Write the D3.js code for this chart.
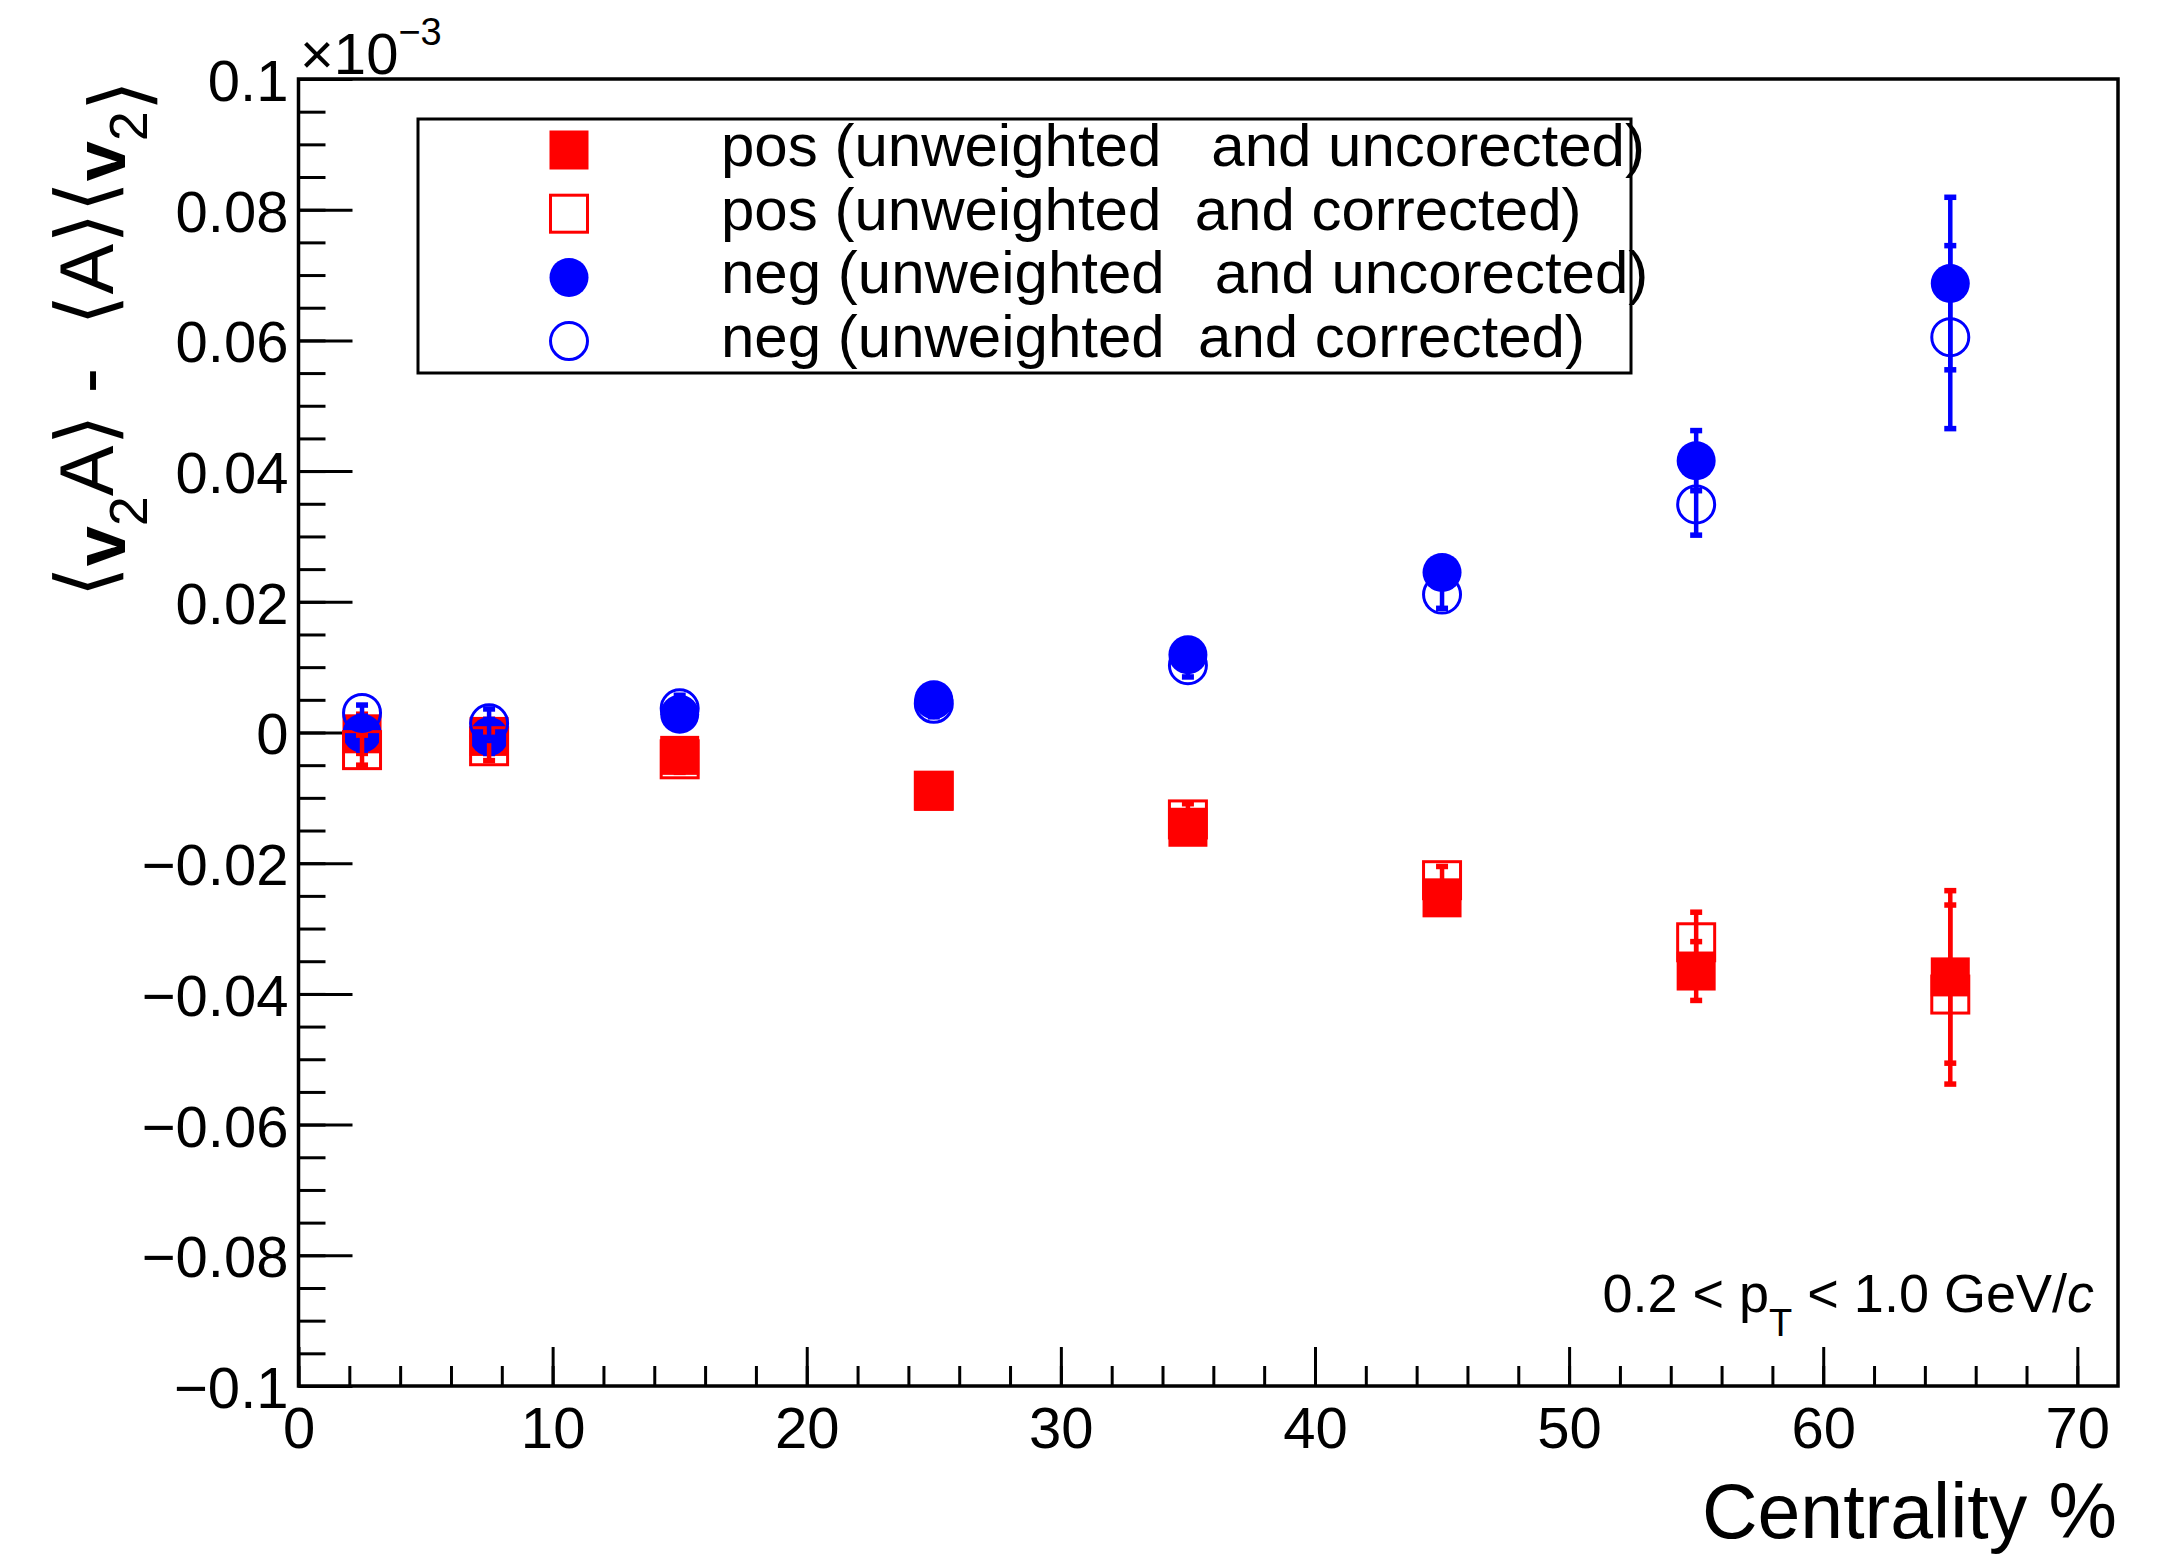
<!DOCTYPE html>
<html>
<head>
<meta charset="utf-8">
<script src="https://cdn.jsdelivr.net/npm/d3@7"></script>
<style>
  body { margin: 0; background: #fff; }
  text { font-family: "Liberation Sans", Arial, Helvetica, sans-serif; }
</style>
</head>
<body>
<script>
// centrality bins (x) and the four series (units of 1e-3)
var centrality = [2.5, 7.5, 15, 25, 35, 45, 55, 65];

var posUncorr    = [-0.0002, -0.0006, -0.0035, -0.0090, -0.0145, -0.0253, -0.0365, -0.0374];
var posUncorrErr = [ 0.0030,  0.0026,  0.0022,  0.0022,  0.0022,  0.0022,  0.0045,  0.0132];
var posCorr      = [-0.0027, -0.0021, -0.0041, -0.0089, -0.0133, -0.0226, -0.0321, -0.0401];
var posCorrErr   = [ 0.0023,  0.0022,  0.0020,  0.0020,  0.0024,  0.0021,  0.0046,  0.0137];
var negUncorr    = [-0.0001, -0.0006,  0.0028,  0.0050,  0.0119,  0.0245,  0.0416,  0.0687];
var negUncorrErr = [ 0.0026,  0.0026,  0.0022,  0.0022,  0.0022,  0.0022,  0.0046,  0.0132];
var negCorr      = [ 0.0030,  0.0014,  0.0037,  0.0044,  0.0103,  0.0211,  0.0349,  0.0605];
var negCorrErr   = [ 0.0012,  0.0022,  0.0020,  0.0020,  0.0018,  0.0021,  0.0047,  0.0140];

var xTicks = [0, 10, 20, 30, 40, 50, 60, 70];
var yTicks = [-0.1, -0.08, -0.06, -0.04, -0.02, 0, 0.02, 0.04, 0.06, 0.08, 0.1];
var yTickLabels = ["\u22120.1", "\u22120.08", "\u22120.06", "\u22120.04", "\u22120.02", "0",
                   "0.02", "0.04", "0.06", "0.08", "0.1"];

var legendLabels = [
  "pos (unweighted   and uncorected)",
  "pos (unweighted  and corrected)",
  "neg (unweighted   and uncorected)",
  "neg (unweighted  and corrected)"
];

var width = 2177, height = 1556;
var padLeft = 298.5, padRight = 2118, padTop = 79, padBottom = 1386;

var x = d3.scaleLinear().domain([0, 71.6]).range([padLeft, padRight]);
var y = d3.scaleLinear().domain([-0.1, 0.1]).range([padBottom, padTop]);

var svg = d3.select("body").append("svg")
    .attr("width", width)
    .attr("height", height);

svg.append("rect").attr("width", width).attr("height", height).attr("fill", "#fff");

// ---- axes ----
var xMinor = d3.range(0, 72, 2);
var yMinor = d3.range(-100, 101, 5).map(function (v) { return v / 1000; });

svg.append("g")
    .attr("transform", "translate(0," + padBottom + ")")
    .call(d3.axisBottom(x).tickValues(xMinor).tickSize(-20).tickFormat(""))
    .call(function (g) { g.select(".domain").remove(); });

svg.append("g")
    .attr("transform", "translate(0," + padBottom + ")")
    .call(d3.axisBottom(x).tickValues(xTicks).tickSize(-39).tickPadding(21))
    .call(function (g) {
      g.select(".domain").remove();
      g.selectAll("text").style("font-size", "58px").attr("fill", "#000");
    });

svg.append("g")
    .attr("transform", "translate(" + padLeft + ",0)")
    .call(d3.axisLeft(y).tickValues(yMinor).tickSize(-27).tickFormat(""))
    .call(function (g) { g.select(".domain").remove(); });

svg.append("g")
    .attr("transform", "translate(" + padLeft + ",0)")
    .call(d3.axisLeft(y).tickValues(yTicks).tickSize(-54).tickPadding(10)
      .tickFormat(function (d, i) { return yTickLabels[i]; }))
    .call(function (g) {
      g.select(".domain").remove();
      g.selectAll("text").style("font-size", "58px").attr("fill", "#000").attr("dy", "0.37em");
    });

svg.selectAll(".tick line").attr("stroke", "#000").attr("stroke-width", 3);

// frame
svg.append("rect")
    .attr("x", padLeft).attr("y", padTop)
    .attr("width", padRight - padLeft).attr("height", padBottom - padTop)
    .attr("fill", "none").attr("stroke", "#000").attr("stroke-width", 3.5);

// exponent
var ex = svg.append("text").attr("x", 300).attr("y", 73.5).style("font-size", "58px");
ex.append("tspan").text("\u00d710");
ex.append("tspan").attr("dy", -28.5).style("font-size", "38px").text("\u22123");

// ---- series ----
var series = [
  { v: posUncorr, e: posUncorrErr, color: "#ff0000", shape: "square", filled: true },
  { v: negUncorr, e: negUncorrErr, color: "#0000ff", shape: "circle", filled: true },
  { v: posCorr,   e: posCorrErr,   color: "#ff0000", shape: "square", filled: false },
  { v: negCorr,   e: negCorrErr,   color: "#0000ff", shape: "circle", filled: false }
];

function drawMarker(g, s, cx, cy) {
  if (s.shape === "square") {
    var sz = s.filled ? 39 : 37;
    g.append("rect")
      .attr("x", cx - sz / 2).attr("y", cy - sz / 2)
      .attr("width", sz).attr("height", sz)
      .attr("fill", s.filled ? s.color : "none")
      .attr("stroke", s.filled ? "none" : s.color)
      .attr("stroke-width", 3);
  } else {
    g.append("circle")
      .attr("cx", cx).attr("cy", cy)
      .attr("r", s.filled ? 19.5 : 18.5)
      .attr("fill", s.filled ? s.color : "none")
      .attr("stroke", s.filled ? "none" : s.color)
      .attr("stroke-width", 3);
  }
}

series.forEach(function (s) {
  var g = svg.append("g");
  centrality.forEach(function (c, i) {
    var cx = x(c), y0 = y(s.v[i] - s.e[i]), y1 = y(s.v[i] + s.e[i]);
    g.append("line")
      .attr("x1", cx).attr("x2", cx).attr("y1", y0).attr("y2", y1)
      .attr("stroke", s.color).attr("stroke-width", 4.5);
    [y0, y1].forEach(function (yy) {
      g.append("rect")
        .attr("x", cx - 6).attr("y", yy - 2.75)
        .attr("width", 12).attr("height", 5.5)
        .attr("fill", s.color);
    });
  });
  centrality.forEach(function (c, i) {
    drawMarker(g, s, x(c), y(s.v[i]));
  });
});

// ---- legend ----
var legendOrder = [series[0], series[2], series[1], series[3]];
var leg = svg.append("g");
leg.append("rect")
    .attr("x", 418).attr("y", 119)
    .attr("width", 1631 - 418).attr("height", 373 - 119)
    .attr("fill", "#fff").attr("stroke", "#000").attr("stroke-width", 3);
legendOrder.forEach(function (s, i) {
  var cy = 150 + i * 63.7;
  drawMarker(leg, s, 569, cy);
  leg.append("text")
    .attr("x", 721).attr("y", cy + 16)
    .style("font-size", "60px")
    .style("white-space", "pre")
    .text(legendLabels[i]);
});

// ---- annotation ----
var pt = svg.append("text")
    .attr("x", 2094).attr("y", 1312)
    .attr("text-anchor", "end")
    .style("font-size", "54px")
    .style("white-space", "pre");
pt.append("tspan").text("0.2 < p");
pt.append("tspan").attr("dy", 24).style("font-size", "38px").text("T");
pt.append("tspan").attr("dy", -24).text(" < 1.0 GeV/");
pt.append("tspan").style("font-style", "italic").text("c");

// ---- axis titles ----
svg.append("text")
    .attr("x", 2117).attr("y", 1538)
    .attr("text-anchor", "end")
    .style("font-size", "77px")
    .text("Centrality %");

var yt = svg.append("text")
    .attr("transform", "translate(113,80) rotate(-90)")
    .attr("text-anchor", "end")
    .style("font-size", "76px")
    .style("white-space", "pre");

function bracket(t) {
  yt.append("tspan").style("font-family", "'DejaVu Sans', 'Noto Sans', sans-serif")
    .style("font-size", "80px").text(t);
}
function vsub() {
  yt.append("tspan").attr("dy", 12).style("font-weight", "bold").style("font-size", "72px").text("v");
  yt.append("tspan").attr("dy", 22).style("font-size", "54px").text("2");
}
bracket("\u27e8");
vsub();
yt.append("tspan").attr("dy", -34).text("A");
bracket("\u27e9");
yt.append("tspan").text(" -  ");
bracket("\u27e8");
yt.append("tspan").text("A");
bracket("\u27e9");
bracket("\u27e8");
vsub();
yt.append("tspan").attr("dy", -34).text("");
bracket("\u27e9");
</script>
</body>
</html>
